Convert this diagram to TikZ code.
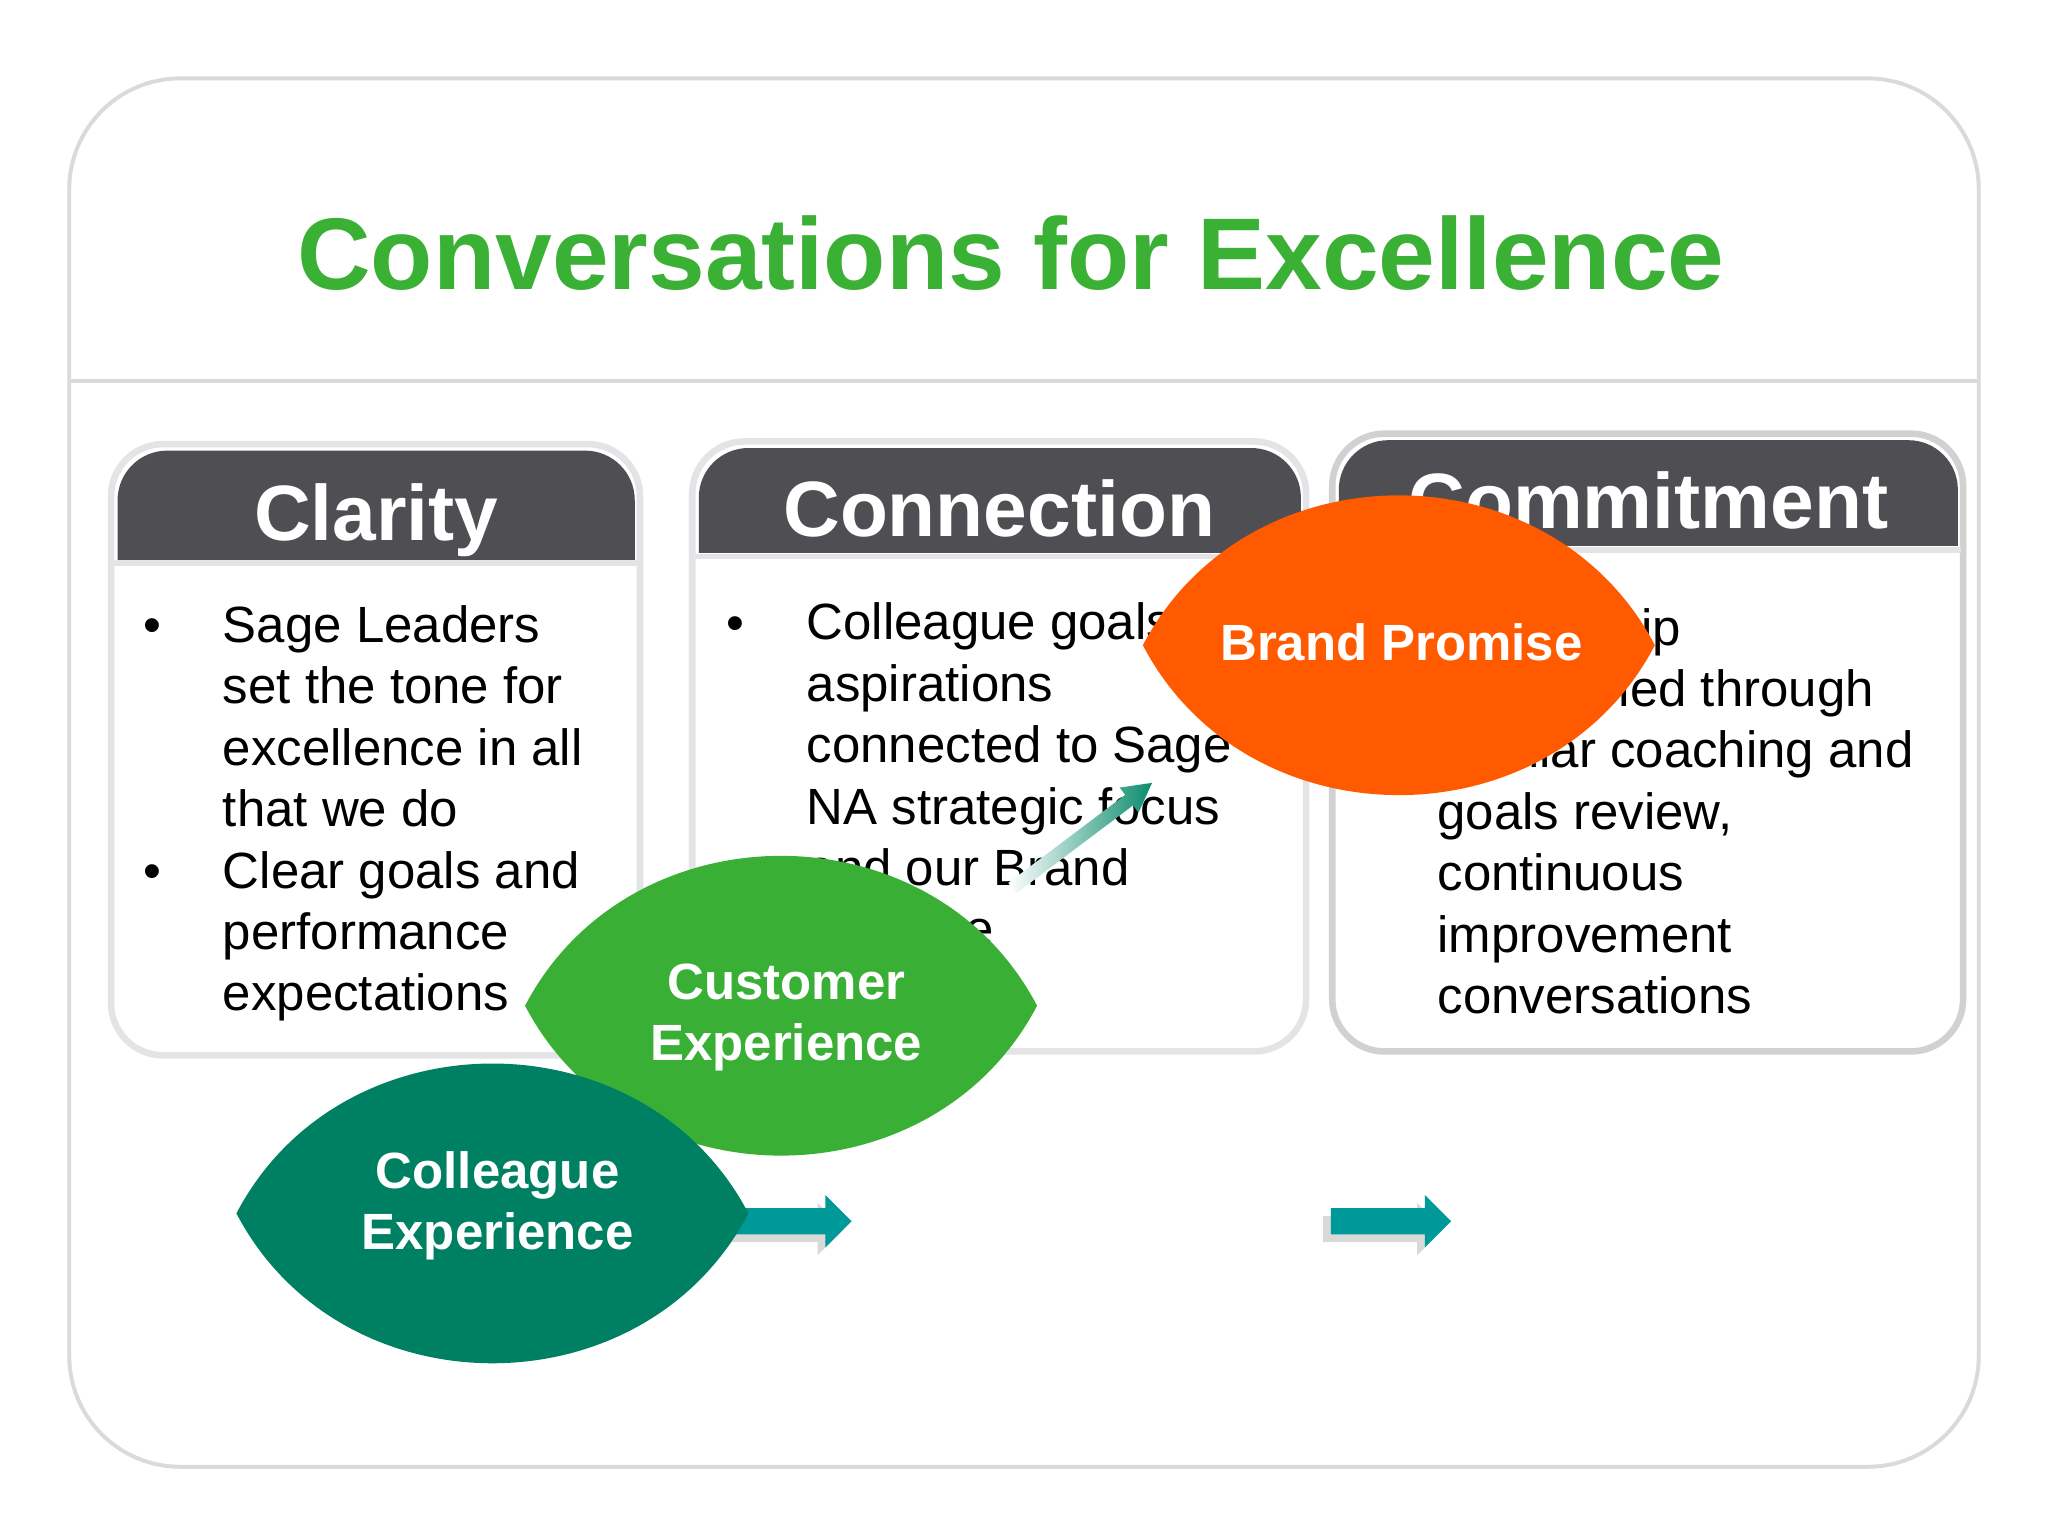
\documentclass[tikz,border=0pt]{standalone}
\usepackage{fontspec}
\setmainfont{Liberation Sans}
\usetikzlibrary{positioning}

\definecolor{titlegreen}{RGB}{58,176,53}
\definecolor{headgray}{RGB}{79,79,83}
\definecolor{cardgray}{RGB}{228,228,231}
\definecolor{framegray}{RGB}{218,218,218}
\definecolor{brandorange}{RGB}{255,90,0}
\definecolor{custgreen}{RGB}{58,175,53}
\definecolor{collteal}{RGB}{0,128,98}
\definecolor{arrowteal}{RGB}{0,153,153}
\definecolor{linkteal}{RGB}{12,140,110}

\tikzset{
  pics/leaf/.style={code={
    \fill[#1] (-196,0) .. controls (-116,-153) and (116,-153) .. (196,0)
      .. controls (116,153) and (-116,153) .. (-196,0) -- cycle;
  }},
  pics/blockarrow/.style={code={
    \fill[black!15] (-6,-4) -- (66,-4) -- (66,-14) -- (86,6) -- (66,26) -- (66,16) -- (-6,16) -- cycle;
    \fill[arrowteal] (0,-10) -- (72,-10) -- (72,-20) -- (92,0) -- (72,20) -- (72,10) -- (0,10) -- cycle;
  }}
}

\begin{document}
\begin{tikzpicture}[x=0.1mm,y=-0.1mm,
    every node/.style={inner sep=0pt},
    outerframe/.style={draw=framegray,line width=0.3mm},
    card/.style={draw=cardgray,line width=0.5mm,fill=white,rounded corners=4mm},
    cardhead/.style={fill=headgray,rounded corners=3.8mm},
    headtext/.style={anchor=base,text=white,font=\fontsize{17.1}{20}\selectfont\bfseries},
    bodytext/.style={anchor=north west,align=left,font=\fontsize{11.1}{13.37}\selectfont},
    bullet/.style={anchor=base,font=\fontsize{11.1}{13.37}\selectfont},
    leaftext/.style={text=white,align=center,font=\fontsize{11.1}{13.37}\selectfont\bfseries}]
    \useasboundingbox (0,0) rectangle (1568,1176);
    \fill[white] (0,0) rectangle (1568,1176);

    % frame and title
    \draw[outerframe,rounded corners=8.5mm] (53,60) rectangle (1515,1123);
    \draw[outerframe] (53,292) -- (1515,292);
    \node[anchor=base,text=titlegreen,font=\fontsize{22.2}{26}\selectfont\bfseries] (title) at (774,222) {Conversations for Excellence};

    % clarity
    \draw[card] (85,340) rectangle (490,808);
    \begin{scope}
        \clip (80,300) rectangle (500,428);
        \fill[cardhead] (90,345) rectangle (486,480);
    \end{scope}
    \draw[cardgray,line width=0.4mm] (87,431) -- (488,431);
    \node[headtext] (clarityhead) at (288,414) {Clarity};
    \node[bullet] (claritydota) at (117,492) {•};
    \node[bodytext] (claritytexta) at (170,463) {Sage Leaders\\set the tone for\\excellence in all\\that we do};
    \node[bullet] (claritydotb) at (117,680) {•};
    \node[bodytext] (claritytextb) at (170,651) {Clear goals and\\performance\\expectations};

    % connection
    \draw[card] (530,338) rectangle (1000,805);
    \begin{scope}
        \clip (520,300) rectangle (1010,423);
        \fill[cardhead] (535,343) rectangle (996,480);
    \end{scope}
    \draw[cardgray,line width=0.4mm] (532,426) -- (998,426);
    \node[headtext] (connecthead) at (765,411) {Connection};
    \node[bullet] (connectdot) at (563,490) {•};
    \node[bodytext] (connecttext) at (617,461) {Colleague goals and\\aspirations\\connected to Sage\\NA strategic focus\\and our Brand\\Promise};

    % commitment
    \draw[card,draw=black!18] (1020,332) rectangle (1503,805);
    \begin{scope}
        \clip (1010,300) rectangle (1510,418);
        \fill[cardhead] (1025,337) rectangle (1499,480);
    \end{scope}
    \draw[cardgray,line width=0.4mm] (1022,421) -- (1501,421);
    \node[headtext] (commithead) at (1262,405) {Commitment};
    \node[bullet] (commitdot) at (1050,494) {•};
    \node[bodytext] (committext) at (1100,465) {Ownership\\maintained through\\regular coaching and\\goals review,\\continuous\\improvement\\conversations};

    % arrows
    \begin{scope}[shift={(775,680)},rotate=37]
        \shade[left color=white,right color=linkteal] (0,-5) -- (112,-5) -- (112,-12) -- (134,0) -- (112,12) -- (112,5) -- (0,5) -- cycle;
    \end{scope}
    \pic at (560,935) {blockarrow};
    \pic at (1019,935) {blockarrow};

    % leaves
    \pic at (598,770) {leaf=custgreen};
    \pic at (377,929) {leaf=collteal};
    \pic at (1071,494) {leaf=brandorange};
    \node[leaftext] (customer) at (602,779) {Customer\\Experience};
    \node[leaftext] (colleague) at (381,923) {Colleague\\Experience};
    \node[leaftext] (brand) at (1073,492) {Brand Promise};
\end{tikzpicture}
\end{document}
